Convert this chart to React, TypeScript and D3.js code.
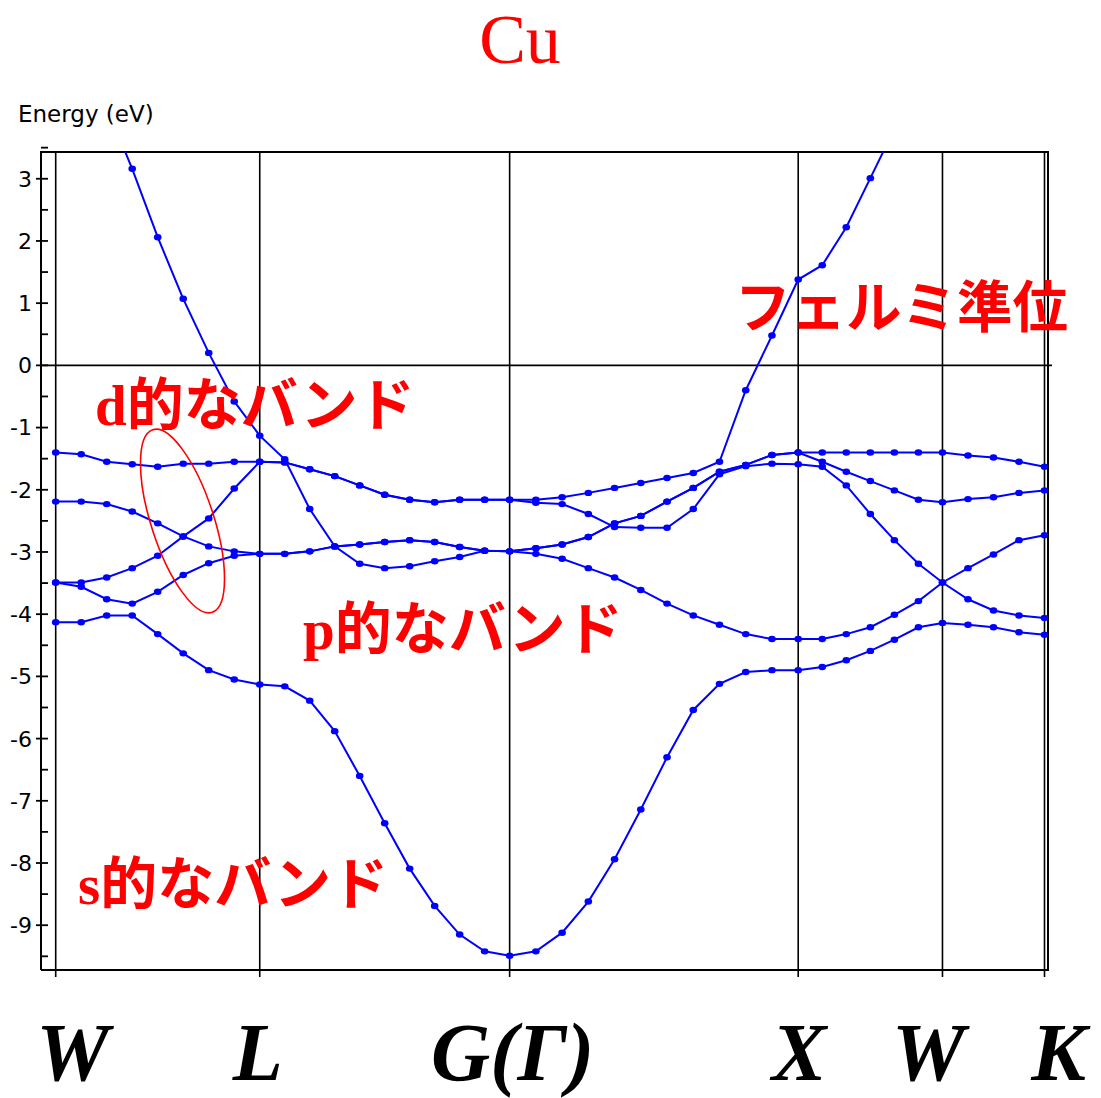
import * as d3 from "d3";
import { useRef, useEffect } from "react";

// symmetry points along the path
const kLabels = ["W", "L", "G(Γ)", "X", "W", "K"];
// segment lengths in units of 2π/a: W-L, L-Γ, Γ-X, X-W, W-K
const segLengths = [Math.SQRT1_2, Math.sqrt(3) / 2, 1, 0.5, Math.SQRT2 / 4];
// number of k steps on each segment
const segSteps = [8, 10, 11, 6, 4];

// band energies (eV) at each of the 40 k points
const band1 = [
  -4.13, -4.13, -4.02, -4.02, -4.32, -4.63, -4.9, -5.05, -5.13,
  -5.16, -5.39, -5.88, -6.6, -7.36, -8.09, -8.69, -9.15, -9.42, -9.49,
  -9.42, -9.12, -8.62, -7.94, -7.14, -6.3, -5.54, -5.12, -4.93, -4.9, -4.9,
  -4.85, -4.74, -4.59, -4.41, -4.21, -4.14,
  -4.17, -4.21, -4.29, -4.33,
];
const band2 = [
  5.0, 4.75, 4.15, 3.16, 2.06, 1.07, 0.2, -0.58, -1.13,
  -1.51, -2.31, -2.91, -3.19, -3.26, -3.23, -3.15, -3.08, -2.98, -2.99,
  -2.94, -2.88, -2.76, -2.54, -2.42, -2.19, -1.97, -1.71, -1.6, -1.44, -1.4,
  -1.4, -1.4, -1.4, -1.4, -1.4, -1.4,
  -1.45, -1.48, -1.55, -1.63,
];
const band3 = [
  -1.4, -1.43, -1.55, -1.59, -1.63, -1.58, -1.58, -1.55, -1.55,
  -1.56, -1.67, -1.78, -1.93, -2.08, -2.16, -2.2, -2.16, -2.16, -2.16,
  -2.16, -2.12, -2.05, -1.97, -1.89, -1.81, -1.73, -1.55, -0.4, 0.48, 1.38,
  1.61, 2.22, 3.01, 3.8, 4.5, 5.0,
  5.1, 5.2, 5.2, 5.2,
];
const band4 = [
  -2.19, -2.19, -2.23, -2.35, -2.54, -2.75, -2.91, -2.99, -3.03,
  -3.03, -2.99, -2.91, -2.88, -2.84, -2.81, -2.84, -2.92, -2.98, -2.99,
  -2.94, -2.88, -2.76, -2.54, -2.42, -2.19, -1.97, -1.71, -1.6, -1.44, -1.4,
  -1.55, -1.71, -1.86, -2.01, -2.16, -2.2,
  -2.15, -2.12, -2.05, -2.01,
];
const band5 = [
  -3.49, -3.49, -3.41, -3.26, -3.06, -2.75, -2.46, -1.98, -1.55,
  -1.56, -1.67, -1.78, -1.93, -2.08, -2.16, -2.2, -2.16, -2.16, -2.16,
  -2.21, -2.23, -2.39, -2.6, -2.61, -2.61, -2.31, -1.75, -1.62, -1.58, -1.59,
  -1.63, -1.93, -2.39, -2.81, -3.19, -3.49,
  -3.76, -3.94, -4.02, -4.06,
];
const band6 = [
  -3.49, -3.56, -3.76, -3.83, -3.64, -3.37, -3.18, -3.06, -3.03,
  -3.03, -2.99, -2.91, -2.88, -2.84, -2.81, -2.84, -2.92, -2.98, -2.99,
  -3.03, -3.11, -3.26, -3.41, -3.61, -3.83, -4.02, -4.17, -4.32, -4.4, -4.4,
  -4.4, -4.32, -4.21, -4.01, -3.79, -3.49,
  -3.26, -3.04, -2.81, -2.73,
];
const bands = [band1, band2, band3, band4, band5, band6];

const yTicks = [3, 2, 1, 0, -1, -2, -3, -4, -5, -6, -7, -8, -9];
const yMinor = [3.5, 2.5, 1.5, 0.5, -0.5, -1.5, -2.5, -3.5, -4.5, -5.5, -6.5, -7.5, -8.5, -9.5];

const WIDTH = 1101;
const HEIGHT = 1098;

export default function App() {
  const svgRef = useRef<SVGSVGElement>(null);

  useEffect(() => {
    const svg = d3.select(svgRef.current);
    svg.selectAll("*").remove();

    const left = 41;
    const right = 1048;
    const top = 152;
    const bottom = 970;

    // k coordinate of each point and of each symmetry point
    const kNodes: number[] = [0];
    const kPos: number[] = [0];
    segLengths.forEach((len, i) => {
      const start = kNodes[i];
      for (let s = 1; s <= segSteps[i]; s++) kPos.push(start + (len * s) / segSteps[i]);
      kNodes.push(start + len);
    });

    const x = d3
      .scaleLinear()
      .domain([0, kNodes[kNodes.length - 1]])
      .range([55.7, 1044.5]);
    const y = d3.scaleLinear().domain([-9.72, 3.43]).range([bottom, top]);

    svg
      .append("rect")
      .attr("width", WIDTH)
      .attr("height", HEIGHT)
      .attr("fill", "white");

    svg
      .append("defs")
      .append("clipPath")
      .attr("id", "plot-clip")
      .append("rect")
      .attr("x", left)
      .attr("y", top)
      .attr("width", right - left)
      .attr("height", bottom - top);

    // vertical lines at symmetry points
    svg
      .selectAll(".k-line")
      .data(kNodes)
      .join("line")
      .attr("class", "k-line")
      .attr("x1", (d) => x(d))
      .attr("x2", (d) => x(d))
      .attr("y1", top)
      .attr("y2", bottom + 7)
      .attr("stroke", "black")
      .attr("stroke-width", 1.6);

    // frame
    svg
      .append("path")
      .attr("d", `M${left},${bottom}V${top}H${right}V${bottom}H${left}`)
      .attr("fill", "none")
      .attr("stroke", "black")
      .attr("stroke-width", 2);

    // fermi level line
    svg
      .append("line")
      .attr("x1", left)
      .attr("x2", right + 4)
      .attr("y1", y(0))
      .attr("y2", y(0))
      .attr("stroke", "black")
      .attr("stroke-width", 1.6);

    // y axis ticks
    svg
      .selectAll(".y-major")
      .data(yTicks)
      .join("line")
      .attr("class", "y-major")
      .attr("x1", left - 5)
      .attr("x2", left + 7)
      .attr("y1", (d) => y(d))
      .attr("y2", (d) => y(d))
      .attr("stroke", "black")
      .attr("stroke-width", 1.8);
    svg
      .selectAll(".y-minor")
      .data(yMinor)
      .join("line")
      .attr("class", "y-minor")
      .attr("x1", left)
      .attr("x2", left + 7)
      .attr("y1", (d) => y(d))
      .attr("y2", (d) => y(d))
      .attr("stroke", "black")
      .attr("stroke-width", 1.8);
    svg
      .selectAll(".y-label")
      .data(yTicks)
      .join("text")
      .attr("class", "y-label")
      .attr("x", 32)
      .attr("y", (d) => y(d))
      .attr("dy", "0.36em")
      .attr("text-anchor", "end")
      .attr("font-family", "DejaVu Sans")
      .attr("font-size", 22)
      .attr("fill", "black")
      .text((d) => String(d));

    svg
      .append("text")
      .attr("x", 18)
      .attr("y", 122)
      .attr("font-family", "DejaVu Sans")
      .attr("font-size", 23)
      .attr("fill", "black")
      .text("Energy (eV)");

    // bands
    const line = d3
      .line<number>()
      .x((_, i) => x(kPos[i]))
      .y((d) => y(d));

    const chart = svg.append("g").attr("clip-path", "url(#plot-clip)");
    chart
      .selectAll(".band")
      .data(bands)
      .join("path")
      .attr("class", "band")
      .attr("fill", "none")
      .attr("stroke", "#0000ff")
      .attr("stroke-width", 2)
      .attr("d", (d) => line(d));

    chart
      .selectAll(".band-dots")
      .data(bands)
      .join("g")
      .attr("class", "band-dots")
      .selectAll("ellipse")
      .data((d) => d)
      .join("ellipse")
      .attr("cx", (_, i) => x(kPos[i]))
      .attr("cy", (d) => y(d))
      .attr("rx", 3.8)
      .attr("ry", 3.2)
      .attr("fill", "#0000ff");

    // k point labels, nudged a little off their tick like the original
    const labelShift = [17, -2, 3, 1, -14, 14];
    svg
      .selectAll(".k-label")
      .data(kLabels)
      .join("text")
      .attr("class", "k-label")
      .attr("x", (_, i) => x(kNodes[i]) + labelShift[i])
      .attr("y", 1080)
      .attr("text-anchor", "middle")
      .attr("font-family", "Liberation Serif")
      .attr("font-weight", "bold")
      .attr("font-style", "italic")
      .attr("font-size", 82)
      .attr("fill", "black")
      .text((d) => d);

    // title
    svg
      .append("text")
      .attr("x", 520)
      .attr("y", 63)
      .attr("text-anchor", "middle")
      .attr("font-family", "Liberation Serif")
      .attr("font-size", 70)
      .attr("fill", "red")
      .text("Cu");

    // annotations
    const note = (tx: number, ty: number, latin: string, jp: string, size: number) => {
      const t = svg
        .append("text")
        .attr("x", tx)
        .attr("y", ty)
        .attr("font-size", size)
        .attr("font-weight", "bold")
        .attr("fill", "red");
      if (latin) t.append("tspan").attr("font-family", "Liberation Serif").text(latin);
      t.append("tspan").attr("font-family", "Noto Sans CJK JP").text(jp);
    };
    note(95, 425, "d", "的なバンド", 57);
    note(303, 649, "p", "的なバンド", 57);
    note(78, 904, "s", "的なバンド", 57);
    note(735, 327, "", "フェルミ準位", 55.5);

    svg
      .append("ellipse")
      .attr("cx", 182.5)
      .attr("cy", 521)
      .attr("rx", 31.3)
      .attr("ry", 96)
      .attr("transform", "rotate(-18 182.5 521)")
      .attr("fill", "none")
      .attr("stroke", "red")
      .attr("stroke-width", 1.6);
  }, []);

  return (
    <svg
      ref={svgRef}
      width={WIDTH}
      height={HEIGHT}
      style={{ position: "absolute", left: 0, top: 0 }}
    />
  );
}
